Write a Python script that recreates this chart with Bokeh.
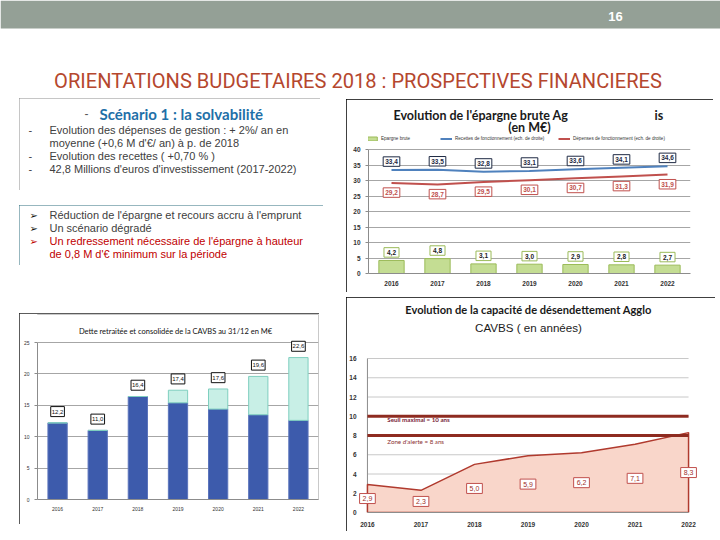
from bokeh.plotting import figure
from bokeh.models import (Range1d, FixedTicker, ColumnDataSource, Label,
                          Legend, LegendItem, Spacer, BoxAnnotation)
from bokeh.layouts import column, row
from bokeh.embed import file_html
from bokeh.resources import INLINE
from bokeh.core.properties import value

# ---------------- data ----------------
years = ["2016", "2017", "2018", "2019", "2020", "2021", "2022"]

epargne_brute = [4.2, 4.8, 3.1, 3.0, 2.9, 2.8, 2.7]
recettes_fonct = [33.4, 33.5, 32.8, 33.1, 33.6, 34.1, 34.6]
depenses_fonct = [29.2, 28.7, 29.5, 30.1, 30.7, 31.3, 31.9]
epargne_ticks = [0, 5, 10, 15, 20, 25, 30, 35, 40]

dette_totale = [12.2, 11.0, 16.4, 17.4, 17.6, 19.6, 22.6]
dette_existante = [12.2, 11.0, 16.4, 15.4, 14.4, 13.5, 12.6]
dette_ticks = [0, 5, 10, 15, 20, 25]

capacite = [2.9, 2.3, 5.0, 5.9, 6.2, 7.1, 8.3]
seuil_maximal = 10
zone_alerte = 8
capacite_ticks = [0, 2, 4, 6, 8, 10, 12, 14, 16]

page_number = "16"
slide_title = "ORIENTATIONS BUDGETAIRES  2018 : PROSPECTIVES FINANCIERES"
scenario_title = "Scénario 1 : la solvabilité"
scenario_lines = ["Evolution des dépenses de gestion : + 2%/ an en",
                  "moyenne (+0,6 M d'€/ an) à p. de 2018",
                  "Evolution des recettes ( +0,70 % )",
                  "42,8 Millions d'euros d'investissement (2017-2022)"]
scenario_bullets = [True, False, True, True]
conclusion_lines = ["Réduction de l'épargne et recours accru à l'emprunt",
                    "Un scénario dégradé",
                    "Un redressement nécessaire de l'épargne à hauteur",
                    "de 0,8 M d'€ minimum sur la période"]
conclusion_bullets = [True, True, True, False]
conclusion_red = [False, False, True, True]

# ---------------- helpers ----------------
SANS = "Liberation Sans"
CAL = "Lato"
yn = [int(y) for y in years]


def fr(v):
    return f"{v:.1f}".replace(".", ",")


def make_box(box, frame=None, x_range=None, y_range=None, border=None, bw=1, axes=True):
    """box / frame in slide pixels; 'rx'/'ry' map frame-local pixels (origin top-left of frame)."""
    bx0, by0, bx1, by1 = box
    fx0, fy0, fx1, fy1 = frame if frame else box
    w, h = bx1 - bx0, by1 - by0
    ml, mr, mt, mb = fx0 - bx0, bx1 - fx1, fy0 - by0, by1 - fy1
    fw, fh = fx1 - fx0, fy1 - fy0
    if x_range is None:
        x_range = Range1d(0, fw)
    if y_range is None:
        y_range = Range1d(fh, 0)
    kw = {}
    if not axes:
        kw = dict(x_axis_type=None, y_axis_type=None)
    p = figure(width=w, height=h, x_range=x_range, y_range=y_range, title=None,
               min_border_left=ml, min_border_right=mr, min_border_top=mt, min_border_bottom=mb,
               output_backend="svg", toolbar_location=None, frame_align=False, **kw)
    p.extra_x_ranges = {"rx": Range1d(0, fw)}
    p.extra_y_ranges = {"ry": Range1d(fh, 0)}
    p.outline_line_color = None
    p.background_fill_color = "white"
    p.border_fill_color = "white"
    if not axes:
        p.grid.visible = False
    if border:
        p.styles = {"outline": f"{bw}px solid {border}", "outline-offset": f"-{bw}px"}
    return p, (fx0, fy0)


def txt(pf, x, y, s, size, color="#000000", font=SANS, style="normal", align="left"):
    p, (ox, oy) = pf
    p.add_layout(Label(x=x - ox, y=y - oy, text=s, x_range_name="rx", y_range_name="ry",
                       text_font=font, text_font_size=f"{size}px", text_color=color,
                       text_font_style=style, text_align=align, text_baseline="middle"))


def data_labels(p, xs, ys, vals, size, color, border, bold=False, padx=2, pady=1):
    texts = [fr(v) for v in vals]
    widths = [sum(0.556 if c.isdigit() else 0.278 for c in t) * size + 2 * padx for t in texts]
    src = ColumnDataSource(dict(x=xs, y=ys, t=texts, w=widths))
    p.rect(x="x", y="y", width="w", height=size + 2 * pady + 1, width_units="screen",
           height_units="screen", source=src, fill_color="white", line_color=border, line_width=1)
    p.text(x="x", y="y", text="t", source=src, text_align="center", text_baseline="middle",
           text_font=value(SANS), text_font_size=value(f"{size}px"),
           text_font_style="bold" if bold else "normal", text_color=color)


def style_axes(p, size, bold=False, color="#333333"):
    for ax in p.axis:
        ax.major_label_text_font = SANS
        ax.major_label_text_font_size = f"{size}px"
        ax.major_label_text_font_style = "bold" if bold else "normal"
        ax.major_label_text_color = color
        ax.axis_line_color = "#8C8C8C"
        ax.major_tick_line_color = "#8C8C8C"
        ax.minor_tick_line_color = None
        ax.major_tick_out = 3
        ax.major_tick_in = 0


# ---------------- header ----------------
HB = (0, 0, 720, 96)
hdr = make_box(HB, axes=False)
hdr[0].add_layout(BoxAnnotation(top=0, bottom=28, fill_color="#94A096", fill_alpha=1, line_color=None))
txt(hdr, 615, 16, page_number, 13, "#FFFFFF", SANS, "bold", "center")
txt(hdr, 360, 80, slide_title, 20.1, "#B5472E", "Roboto", "normal", "center")

# ---------------- text box 1 ----------------
TB1 = (19, 98, 320, 190)
tb1 = make_box(TB1, border="#8C8C8C", bw=2, axes=False)
txt(tb1, 84, 113, "-", 12, "#595959", SANS)
txt(tb1, 99, 113, scenario_title, 15, "#1F70A8", CAL, "bold")
for i, (line, b) in enumerate(zip(scenario_lines, scenario_bullets)):
    yy = 129 + i * 13
    if b:
        txt(tb1, 28, yy, "-", 11, "#404040")
    txt(tb1, 49, yy, line, 11, "#404040")

# ---------------- text box 2 ----------------
TB2 = (19, 205, 323, 265)
tb2 = make_box(TB2, border="#2E6F7E", bw=1, axes=False)
for i, (line, b, red) in enumerate(zip(conclusion_lines, conclusion_bullets, conclusion_red)):
    yy = 214.5 + i * 13
    col = "#C00000" if red else "#404040"
    if b:
        txt(tb2, 29, yy, "\u27a2", 10, "#C00000" if red else "#111111", "DejaVu Sans")
    txt(tb2, 49, yy, line, 11, col)

# ---------------- épargne brute chart ----------------
EB = (346, 99, 713, 292)
EF = (368, 100, 690, 273)
ey_top = 40 * (EF[3] - EF[1]) / (273 - 149)
epf = make_box(EB, EF, x_range=Range1d(yn[0] - 0.5, yn[-1] + 0.5), y_range=Range1d(0, ey_top),
               border="#000000")
ep = epf[0]
style_axes(ep, 6.5, bold=True)
ep.xaxis.ticker = FixedTicker(ticks=yn)
ep.xaxis.major_tick_line_color = None
ep.xaxis.major_label_standoff = 4
ep.yaxis.ticker = FixedTicker(ticks=epargne_ticks)
ep.yaxis.bounds = (0, 40)
ep.ygrid.ticker = FixedTicker(ticks=epargne_ticks)
ep.ygrid.grid_line_color = "#A6A6A6"
ep.xgrid.visible = False

esrc = ColumnDataSource(dict(year=yn, ep=epargne_brute, rec=recettes_fonct, dep=depenses_fonct))
bars = ep.vbar(x="year", top="ep", width=0.55, source=esrc, fill_color="#C4DD93", line_color="#9BBB59")
l_rec = ep.line("year", "rec", source=esrc, line_color="#4F81BD", line_width=2)
l_dep = ep.line("year", "dep", source=esrc, line_color="#C0504D", line_width=2)

data_labels(ep, yn, [v + 2.6 for v in epargne_brute], epargne_brute, 6.5, "#222222", "#9BBB59", True, 3, 1)
data_labels(ep, yn, [v + 2.7 for v in recettes_fonct], recettes_fonct, 6.5, "#1F2A44", "#1F2A44", True, 2, 1)
data_labels(ep, yn, [v - 3.1 for v in depenses_fonct], depenses_fonct, 6.5, "#C0504D", "#C0504D", True, 2, 1)

txt(epf, 393, 115, "Evolution de l'épargne brute Ag", 12.5, "#1A1A1A", CAL, "bold")
txt(epf, 654, 115, "is", 12.5, "#1A1A1A", CAL, "bold")
txt(epf, 529, 127, "(en M€)", 12.5, "#1A1A1A", CAL, "bold", "center")

legend_specs = [("Epargne brute", bars, 366), ("Recettes de fonctionnement (ech. de droite)", l_rec, 440),
                ("Dépenses de fonctionnement (ech. de droite)", l_dep, 558)]
for lab, rend, lx in legend_specs:
    ep.add_layout(Legend(items=[LegendItem(label=value(lab), renderers=[rend])],
                         location=(lx - EF[0], EF[3] - 141), orientation="horizontal",
                         glyph_width=12, glyph_height=5, label_height=5, label_standoff=3,
                         label_text_font=SANS, label_text_font_size="4.6px", label_text_color="#333333",
                         padding=0, margin=0, spacing=0, border_line_color=None, background_fill_alpha=0))

# ---------------- dette chart ----------------
DB = (19, 313, 319, 524)
DF = (37, 314, 318, 499)
dy_top = 25 * (DF[3] - DF[1]) / (499 - 342)
dtf = make_box(DB, DF, x_range=Range1d(yn[0] - 0.5, yn[-1] + 0.5), y_range=Range1d(0, dy_top),
               border="#262626", bw=2)
dt = dtf[0]
style_axes(dt, 5)
dt.xaxis.ticker = FixedTicker(ticks=yn)
dt.xaxis.major_tick_line_color = None
dt.xaxis.major_label_standoff = 4
dt.yaxis.ticker = FixedTicker(ticks=dette_ticks)
dt.yaxis.bounds = (0, 25)
dt.ygrid.ticker = FixedTicker(ticks=dette_ticks)
dt.ygrid.grid_line_color = "#A6A6A6"
dt.xgrid.visible = False

dette_nouvelle = [round(t - b, 1) for t, b in zip(dette_totale, dette_existante)]
dsrc = ColumnDataSource(dict(year=yn, base=dette_existante, extra=dette_nouvelle))
dt.vbar_stack(["base", "extra"], x="year", width=0.48, source=dsrc,
              fill_color=["#3D5BAC", "#C8EFE6"], line_color=["#5B74BC", "#7FCFBF"])
data_labels(dt, yn, [v + 1.8 for v in dette_totale], dette_totale, 6, "#111111", "#111111", False, 1, 1.5)
txt(dtf, 175, 331, "Dette retraitée et consolidée de la CAVBS au 31/12 en M€", 7.5, "#111111", CAL,
    "normal", "center")

# ---------------- capacité de désendettement chart ----------------
CB = (346, 297, 715, 531)
CF = (356, 298, 697, 512)
C_X0, C_X1 = 365, 688          # slide x of first / last year on the axis
c_per_year = (C_X1 - C_X0) / (yn[-1] - yn[0])
cy_top = 16 * (CF[3] - CF[1]) / (512 - 358)
cpf = make_box(CB, CF,
               x_range=Range1d(yn[0] - (C_X0 - CF[0]) / c_per_year, yn[-1] + (CF[2] - C_X1) / c_per_year),
               y_range=Range1d(0, cy_top), border="#000000")
cp = cpf[0]
style_axes(cp, 6.5, bold=True)
cp.xaxis.ticker = FixedTicker(ticks=yn)
cp.xaxis.bounds = (yn[0], yn[-1])
cp.xaxis.major_label_standoff = 6
cp.xaxis.major_tick_line_color = None
cp.yaxis.ticker = FixedTicker(ticks=capacite_ticks)
cp.yaxis.axis_line_color = None
cp.yaxis.major_tick_line_color = None
cp.yaxis.major_tick_out = 0
cp.yaxis.major_label_standoff = 2
cp.grid.visible = False

# horizontal gridlines and y axis line limited to the 2016-2022 span
cp.segment(x0=yn[0], x1=yn[-1], y0=capacite_ticks[1:], y1=capacite_ticks[1:], line_color="#C8C8C8")
cp.segment(x0=[yn[0]], x1=[yn[0]], y0=[0], y1=[capacite_ticks[-1]], line_color="#8C8C8C")

cp.patch([yn[0]] + yn + [yn[-1]], [0] + capacite + [0], fill_color="#F9D6CA", line_color="#B03A2E",
         line_width=1.5)
cp.segment(x0=yn[0], x1=yn[-1], y0=[seuil_maximal, zone_alerte], y1=[seuil_maximal, zone_alerte],
           line_color="#8E2B20", line_width=3)
data_labels(cp, yn, [v / 2 for v in capacite], capacite, 7, "#A0302A", "#C0504D", False, 3, 1)

txt(cpf, 527, 309, "Evolution de la capacité de désendettement Agglo", 11.1, "#1A1A1A", CAL, "bold", "center")
txt(cpf, 527, 327, "CAVBS ( en années)", 11.6, "#1A1A1A", SANS, "normal", "center")
txt(cpf, 385, 419, f"Seuil maximal = {seuil_maximal} ans", 6.2, "#7A1F3A", CAL, "bold")
txt(cpf, 385, 441, f"Zone d'alerte = {zone_alerte} ans", 6.2, "#8B3030", CAL)

# ---------------- layout ----------------
left_col = column(Spacer(height=TB1[1] - HB[3]), tb1[0], Spacer(height=TB2[1] - TB1[3]), tb2[0],
                  Spacer(height=DB[1] - TB2[3]), dt)
right_col = column(Spacer(height=EB[1] - HB[3]), ep, Spacer(height=CB[1] - EB[3]), cp)
body = row(Spacer(width=TB1[0]), left_col, Spacer(width=EB[0] - TB2[2]), right_col)
page = column(hdr[0], body)

open("out.html", "w").write(file_html(page, INLINE, title="Orientations budgétaires 2018"))
